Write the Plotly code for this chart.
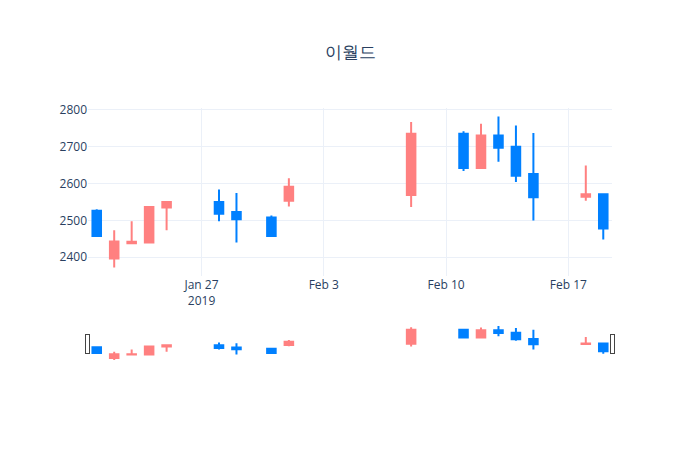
import plotly.graph_objects as go

dates = ['2019-01-21', '2019-01-22', '2019-01-23', '2019-01-24', '2019-01-25',
         '2019-01-28', '2019-01-29', '2019-01-31', '2019-02-01', '2019-02-08',
         '2019-02-11', '2019-02-12', '2019-02-13', '2019-02-14', '2019-02-15',
         '2019-02-18', '2019-02-19']
open_ = [2526, 2397, 2438, 2440, 2535, 2550, 2523, 2508, 2553, 2569,
         2735, 2642, 2730, 2700, 2626, 2564, 2571]
high = [2530, 2473, 2498, 2538, 2551, 2584, 2574, 2513, 2614, 2767,
        2742, 2762, 2782, 2757, 2737, 2649, 2571]
low = [2458, 2372, 2437, 2438, 2473, 2498, 2440, 2455, 2538, 2536,
       2634, 2642, 2659, 2604, 2500, 2553, 2448]
close = [2458, 2443, 2442, 2536, 2550, 2518, 2503, 2458, 2591, 2735,
         2642, 2730, 2697, 2621, 2563, 2571, 2478]

fig = go.Figure()
fig.add_trace(go.Candlestick(
    x=dates, open=open_, high=high, low=low, close=close,
    increasing=dict(line=dict(color='#FF8080'), fillcolor='#FF8080'),
    decreasing=dict(line=dict(color='#0080FF'), fillcolor='#0080FF'),
))

fig.update_layout(
    title=dict(text='이월드', x=0.5),
    template='plotly_white',
    font=dict(family='Open Sans'),
    showlegend=False,
    xaxis=dict(rangeslider=dict(visible=True)),
)

fig.write_html("out.html")
